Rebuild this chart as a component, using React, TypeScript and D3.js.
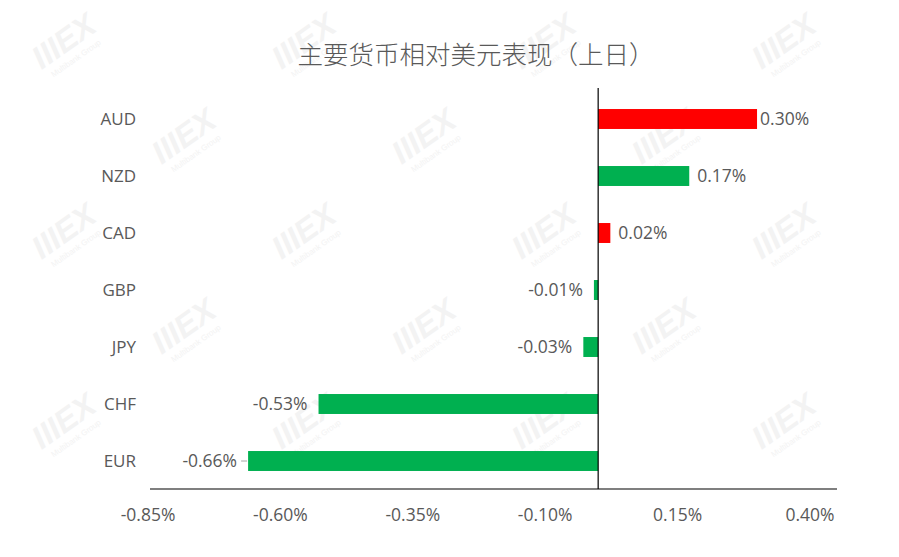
import React from "react";
import * as d3 from "d3";

const categories = ["AUD", "NZD", "CAD", "GBP", "JPY", "CHF", "EUR"];
const values = [0.30, 0.172, 0.023, -0.008, -0.028, -0.528, -0.661];
const valueLabels = ["0.30%", "0.17%", "0.02%", "-0.01%", "-0.03%", "-0.53%", "-0.66%"];
const barColors = ["#FF0000", "#00B050", "#FF0000", "#00B050", "#00B050", "#00B050", "#00B050"];
const tickValues = [-0.85, -0.6, -0.35, -0.1, 0.15, 0.4];
const tickLabels = ["-0.85%", "-0.60%", "-0.35%", "-0.10%", "0.15%", "0.40%"];
const title = "主要货币相对美元表现（上日）";

const W = 899;
const H = 557;
const FONT = "'Open Sans', 'Noto Sans', sans-serif";
const TXT = "#595959";

export default function App() {
  const x = d3.scaleLinear().domain([-0.85, 0.4]).range([148, 810]);
  const y = d3.scaleBand().domain(categories).range([90.5, 489.5]).paddingInner(0.65).paddingOuter(0.325);
  const x0 = x(0);
  const axisY = 489;

  // watermark tiles (decoration)
  const marks: { cx: number; cy: number }[] = [];
  for (let r = 0; r < 6; r++) {
    for (let c = 0; c < 5; c++) {
      const cx = c * 240 + (r % 2) * 120 + 70;
      const cy = r * 95 + 50;
      if (cx > 50 && cx < 850 && cy > 35 && cy < 525) marks.push({ cx, cy });
    }
  }

  return (
    <svg width={W} height={H} style={{ position: "absolute", left: 0, top: 0, background: "#fff" }}>
      <rect x={0} y={0} width={W} height={H} fill="#fff" />
      <g>
        {marks.map((m, i) => (
          <g key={i} transform={`translate(${m.cx},${m.cy}) rotate(-35)`}>
            <text x={0} y={0} textAnchor="middle" fontFamily="Arial, sans-serif" fontWeight="bold" fontStyle="italic" fontSize={32} fill="#f3f3f3">IIIEX</text>
            <text x={0} y={13} textAnchor="middle" fontFamily="Arial, sans-serif" fontSize={8} fill="#f3f3f3">Multibank Group</text>
          </g>
        ))}
      </g>
      <text x={476} y={64} textAnchor="middle" fontFamily="'Noto Sans CJK SC', sans-serif" fontWeight={300} fontSize={25.5} fill={TXT}>{title}</text>

      {categories.map((c, i) => {
        const v = values[i];
        const yc = y(c)! + y.bandwidth() / 2;
        const bx = Math.min(x(v), x0);
        const bw = Math.abs(x(v) - x0);
        return (
          <g key={c}>
            <rect x={bx} y={y(c)} width={bw} height={y.bandwidth()} fill={barColors[i]} />
            <text x={136} y={yc} dy="0.35em" textAnchor="end" fontFamily={FONT} fontSize={17} fill={TXT}>{c}</text>
            {v >= 0 ? (
              <text x={x(v) + (i === 0 ? 3 : 8)} y={yc} dy="0.35em" textAnchor="start" fontFamily={FONT} fontSize={17.5} fill={TXT}>{valueLabels[i]}</text>
            ) : (
              <text x={x(v) - 11} y={yc} dy="0.35em" textAnchor="end" fontFamily={FONT} fontSize={17.5} fill={TXT}>{valueLabels[i]}</text>
            )}
            {c === "EUR" && <line x1={x(v) - 7} x2={x(v) - 1} y1={yc} y2={yc} stroke="#a6a6a6" strokeWidth={1} />}
          </g>
        );
      })}

      <line x1={x0} x2={x0} y1={88} y2={axisY} stroke="#000" strokeWidth={1.2} />
      <line x1={150} x2={837} y1={axisY} y2={axisY} stroke="#000" strokeWidth={1.2} />
      {tickValues.map((t, i) => (
        <text key={t} x={x(t)} y={515} dy="0.35em" textAnchor="middle" fontFamily={FONT} fontSize={17.5} fill={TXT}>{tickLabels[i]}</text>
      ))}
    </svg>
  );
}
